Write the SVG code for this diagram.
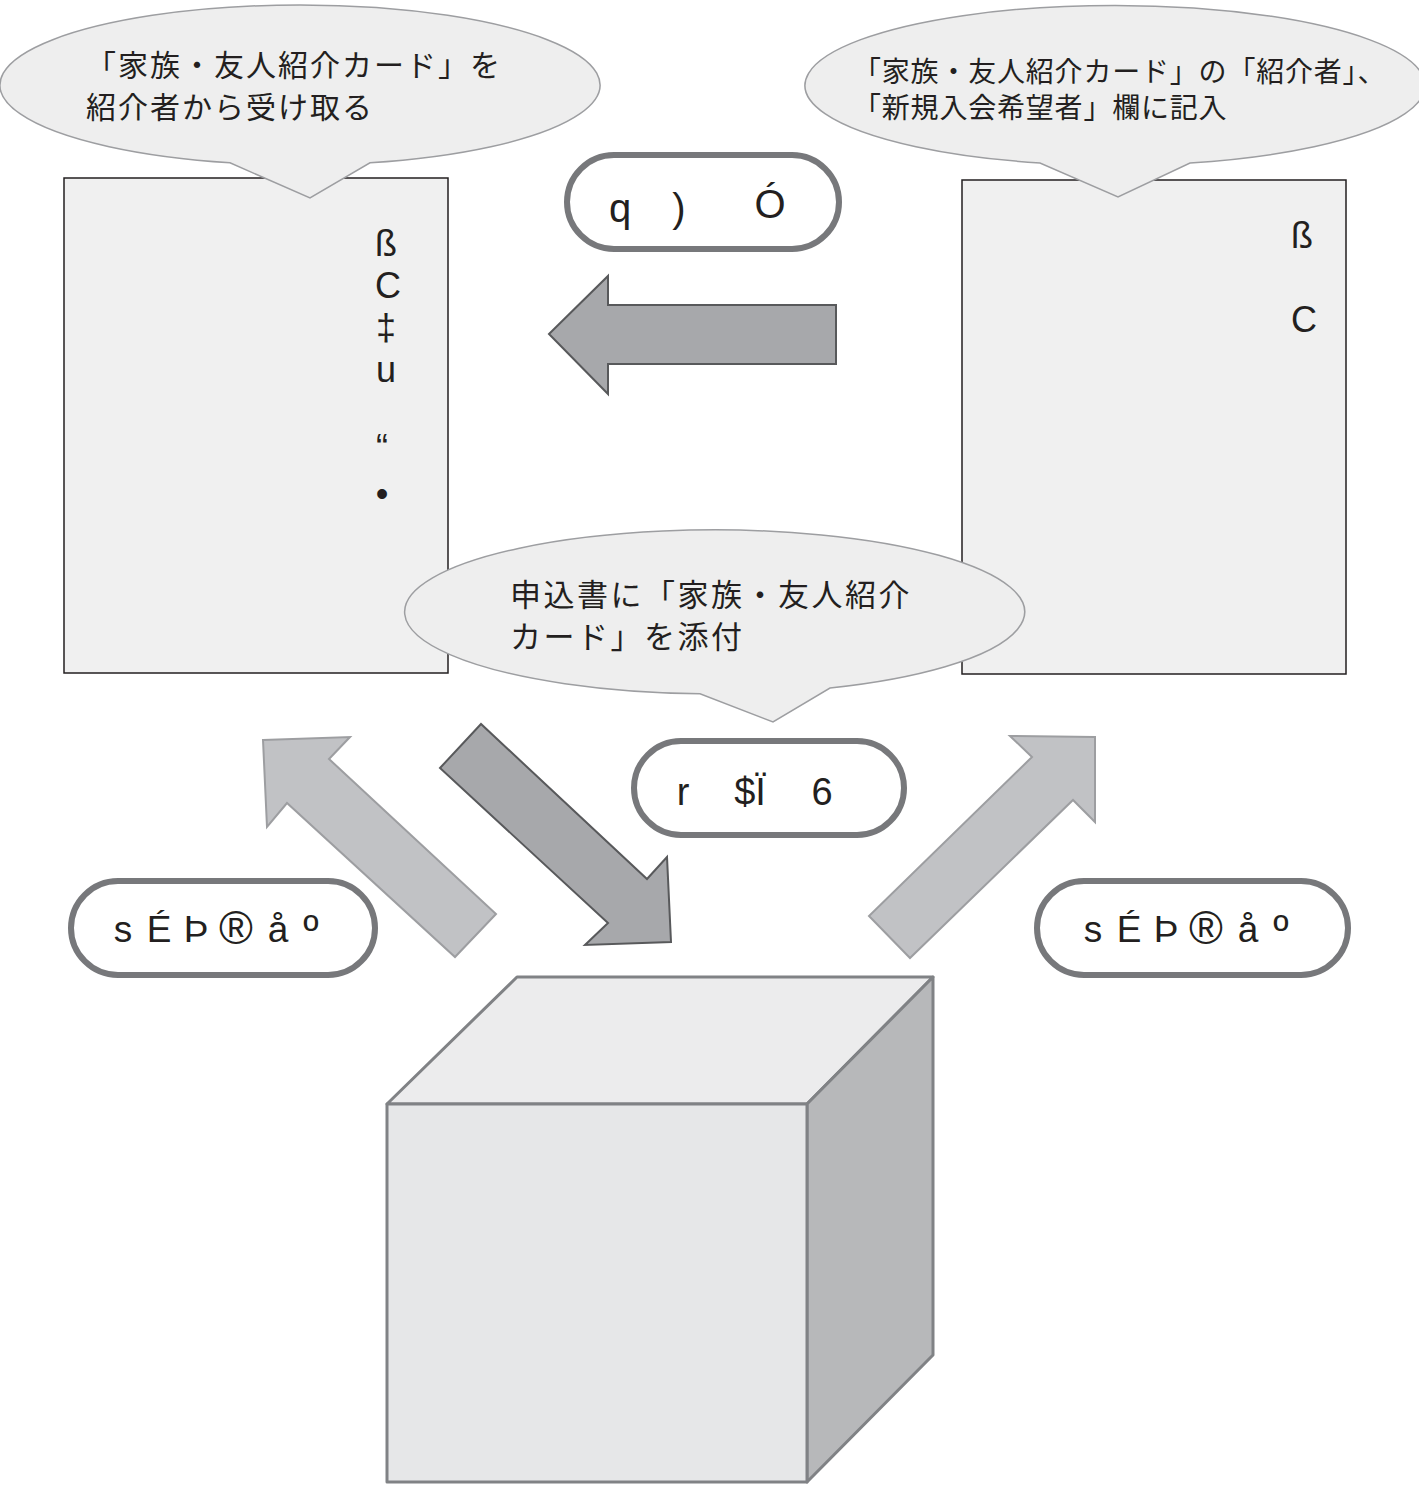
<svg xmlns="http://www.w3.org/2000/svg" width="1419" height="1486" viewBox="0 0 1419 1486">
<style>
.jp{font-family:"Liberation Sans","Noto Sans CJK JP",sans-serif;fill:#231f20}
.lb{font-family:"Liberation Sans",sans-serif;fill:#231f20}
.callout{fill:#eeeeee;stroke:#9d9ea1;stroke-width:1.5}
.doc{fill:#f0f0f0;stroke:#231f20;stroke-width:1.5}
.pill{fill:#ffffff;stroke:#77787b;stroke-width:6}
.darr{fill:#a7a8ab;stroke:#58595b;stroke-width:2}
.larr{fill:#c1c2c5;stroke:#9d9ea1;stroke-width:2}
.reg{font-size:46px}
.ord{font-size:42px}
</style>
<rect width="1419" height="1486" fill="#ffffff"/>
<g id="doc-left">
<rect class="doc" x="64" y="178" width="384" height="495"/>
<g class="lb" font-size="36" text-anchor="middle">
<text x="386" y="256">ß</text>
<text x="388" y="298">C</text>
<text x="386" y="340">‡</text>
<text x="386" y="382">u</text>
<text x="382" y="460">“</text>
<text x="382" y="506">•</text>
</g>
</g>
<g id="doc-right">
<rect class="doc" x="962" y="180" width="384" height="494"/>
<g class="lb" font-size="36" text-anchor="middle">
<text x="1302" y="248">ß</text>
<text x="1304" y="332">C</text>
</g>
</g>
<g id="callout-left">
<path class="callout" d="M370,162.8 A300 80 0 1 0 230,162.8 L310,198 Z"/>
<text class="jp" font-size="30" letter-spacing="2" x="86" y="76">「家族・友人紹介カード」を</text>
<text class="jp" font-size="30" letter-spacing="2" x="86" y="118">紹介者から受け取る</text>
</g>
<g id="callout-right">
<path class="callout" d="M1190,163 A310 80 0 1 0 1040,163 L1118,197 Z"/>
<text class="jp" font-size="28" letter-spacing="0.8" x="853" y="82">「家族・友人紹介カード」の「紹介者」、</text>
<text class="jp" font-size="28" letter-spacing="0.8" x="853" y="118">「新規入会希望者」欄に記入</text>
</g>
<g id="callout-middle">
<path class="callout" d="M830,688 A310 82 0 1 0 700,693.8 L773,722 Z"/>
<text class="jp" font-size="31" letter-spacing="2.5" x="510" y="606">申込書に「家族・友人紹介</text>
<text class="jp" font-size="31" letter-spacing="2.5" x="510" y="648">カード」を添付</text>
</g>
<g id="connectors">
<polygon class="darr" points="549,334 608,276 608,305 836,305 836,364 608,364 608,394"/>
<polygon class="darr" points="481,724 440,768 608,923 585,945 671,942 667,857 647,879"/>
<polygon class="larr" points="263,740 350,737 329,759 496,914 455,957 287,803 267,827"/>
<polygon class="larr" points="1095,737 1010,736 1032,757 869,916 910,958 1073,800 1095,822"/>
</g>
<g id="label-top">
<rect class="pill" x="567" y="155" width="272" height="94" rx="47"/>
<g class="lb" font-size="40" text-anchor="middle">
<text x="620" y="222">q</text>
<text x="679" y="222">)</text>
<text x="770" y="218">Ó</text>
</g>
</g>
<g id="label-middle">
<rect class="pill" x="634" y="741" width="270" height="94" rx="47"/>
<g class="lb" font-size="38" text-anchor="middle">
<text x="683" y="805">r</text>
<text x="750" y="805">$Ï</text>
<text x="822" y="805">6</text>
</g>
</g>
<g id="label-left">
<rect class="pill" x="71" y="881" width="304" height="94" rx="47"/>
<g class="lb" font-size="37" text-anchor="middle">
<text x="123" y="942">s</text>
<text x="159" y="942">É</text>
<text x="196" y="942">Þ</text>
<text class="reg" x="236" y="944">®</text>
<text x="278" y="942">å</text>
<text class="ord" x="311" y="944">º</text>
</g>
</g>
<g id="label-right">
<rect class="pill" x="1037" y="881" width="311" height="94" rx="47"/>
<g class="lb" font-size="37" text-anchor="middle">
<text x="1093" y="942">s</text>
<text x="1129" y="942">É</text>
<text x="1166" y="942">Þ</text>
<text class="reg" x="1206" y="944">®</text>
<text x="1248" y="942">å</text>
<text class="ord" x="1281" y="944">º</text>
</g>
</g>
<g id="cube" stroke="#808285" stroke-width="3" stroke-linejoin="round">
<polygon points="387,1104 517,977 933,977 807,1104" fill="#ececed"/>
<polygon points="807,1104 933,977 933,1355 807,1482" fill="#b7b8ba"/>
<rect x="387" y="1104" width="420" height="378" fill="#e6e7e8"/>
</g>
</svg>
